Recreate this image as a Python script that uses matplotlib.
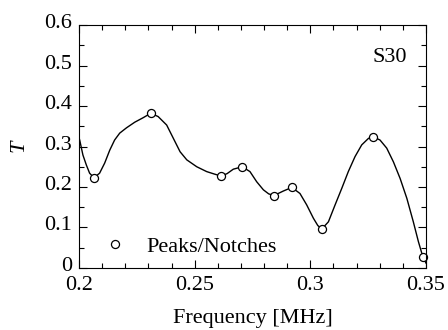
import matplotlib
matplotlib.use('Agg')
import matplotlib.pyplot as plt
from matplotlib.ticker import MultipleLocator
from matplotlib.transforms import ScaledTranslation

plt.rcParams['font.family'] = ['Liberation Serif', 'DejaVu Serif']
plt.rcParams['mathtext.fontset'] = 'custom'
plt.rcParams['mathtext.it'] = 'Liberation Serif:italic'

# transmission curve
curve_f = [0.2000, 0.2003, 0.2017, 0.2032, 0.2046, 0.2065, 0.2089, 0.2111, 0.2133,
           0.2154, 0.2176, 0.2205, 0.2241, 0.2277, 0.2310, 0.2342, 0.2379, 0.2408,
           0.2437, 0.2466, 0.2509, 0.2552, 0.2585, 0.2614, 0.2640, 0.2667, 0.2706,
           0.2739, 0.2768, 0.2797, 0.2820, 0.2843, 0.2883, 0.2920, 0.2955, 0.2984,
           0.3013, 0.3032, 0.3049, 0.3078, 0.3107, 0.3136, 0.3164, 0.3193, 0.3222,
           0.3251, 0.3272, 0.3301, 0.3330, 0.3359, 0.3388, 0.3417, 0.3445, 0.3467,
           0.3486, 0.3500]
curve_t = [0.322, 0.316, 0.279, 0.254, 0.234, 0.223, 0.234, 0.259, 0.291,
           0.316, 0.333, 0.346, 0.360, 0.371, 0.382, 0.374, 0.353, 0.320,
           0.287, 0.267, 0.250, 0.238, 0.232, 0.227, 0.233, 0.244, 0.250,
           0.238, 0.213, 0.193, 0.183, 0.179, 0.190, 0.199, 0.184, 0.156,
           0.123, 0.105, 0.096, 0.114, 0.156, 0.197, 0.238, 0.275, 0.304,
           0.320, 0.324, 0.316, 0.296, 0.262, 0.221, 0.172, 0.114, 0.065,
           0.028, 0.012]

# peaks / notches markers
peak_f = [0.2065, 0.2310, 0.2614, 0.2706, 0.2843, 0.2920, 0.3049, 0.3272, 0.3486]
peak_t = [0.223, 0.382, 0.227, 0.250, 0.179, 0.199, 0.096, 0.324, 0.028]

fig = plt.figure(figsize=(4.48, 3.30), dpi=100)
ax = fig.add_axes([0.1763, 0.1879, 0.951 - 0.1763, 0.9242 - 0.1879])

ax.plot(curve_f, curve_t, color='black', lw=1.0, solid_joinstyle='round')
ax.plot(peak_f, peak_t, 'o', mfc='white', mec='black', ms=5.8, mew=0.9,
        label='Peaks/Notches', clip_on=False)

ax.set_xlim(0.2, 0.35)
ax.set_ylim(0, 0.6)
ax.set_xticks([0.2, 0.25, 0.3, 0.35])
ax.set_xticklabels(['0.2', '0.25', '0.3', '0.35'])
ax.set_yticks([0, 0.1, 0.2, 0.3, 0.4, 0.5, 0.6])
ax.set_yticklabels(['0', '0.1', '0.2', '0.3', '0.4', '0.5', '0.6'])
ax.xaxis.set_minor_locator(MultipleLocator(0.01))
ax.yaxis.set_minor_locator(MultipleLocator(0.05))
ax.tick_params(which='both', direction='in', top=True, right=True, labelsize=16, width=0.8)
ax.tick_params(which='major', length=6)
ax.tick_params(which='minor', length=3.5)
ax.tick_params(axis='x', which='major', pad=6)
ax.tick_params(axis='y', which='major', pad=5)
for s in ax.spines.values():
    s.set_linewidth(0.8)

# y tick labels sit a little above their ticks in the original
for lbl in ax.get_yticklabels():
    lbl.set_transform(lbl.get_transform() + ScaledTranslation(0, 0.04, fig.dpi_scale_trans))

ax.set_xlabel('Frequency [MHz]', fontsize=16, labelpad=10)
ax.set_ylabel('$T$', fontsize=16, labelpad=10)
ax.text(0.944, 0.866, 'S30', transform=ax.transAxes, fontsize=16, ha='right', va='center')

ax.legend(loc='lower left', bbox_to_anchor=(0.02, -0.017), frameon=False, fontsize=16,
          handlelength=1.2, handletextpad=0.8, borderpad=0.2)

fig.savefig('out.png', dpi=100)
